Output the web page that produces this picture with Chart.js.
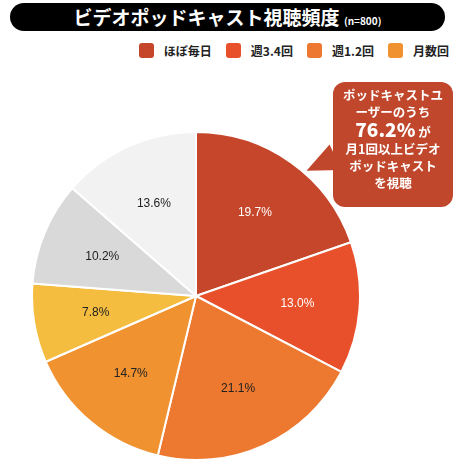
<!DOCTYPE html>
<html><head><meta charset="utf-8">
<script src="https://cdn.jsdelivr.net/npm/chart.js@4/dist/chart.umd.min.js"></script>
<style>
body{margin:0;width:461px;height:470px;background:#fff;font-family:"Noto Sans CJK JP",sans-serif;position:relative;overflow:hidden}
#title{position:absolute;left:10px;top:3px;width:435px;height:28px;background:#000;border-radius:14px;color:#fff;text-align:center;font-size:19px;line-height:28px;font-weight:bold}
#title small{font-size:10px}
#legend{position:absolute;top:42px;right:12px;font-size:12px;font-weight:bold;color:#222;display:flex;gap:14px}
#legend span{display:flex;align-items:center}
#legend i{display:inline-block;width:15px;height:15px;border-radius:3px;margin-right:10px}
#wrap{position:absolute;left:31px;top:131px;width:330px;height:330px}
#call{position:absolute;left:333px;top:82px;width:120px;height:125px;background:#c0472c;border-radius:12px;color:#fff;text-align:center;font-size:12.5px;font-weight:bold;line-height:17px;padding-top:4px;box-sizing:border-box}
#call b{font-size:19px}
#tri{position:absolute;left:305px;top:150px;width:0;height:0;border-top:14px solid transparent;border-bottom:14px solid transparent;border-right:32px solid #c0472c;transform:rotate(-25deg)}
</style></head><body>
<div id="title">ビデオポッドキャスト視聴頻度 <small>(n=800)</small></div>
<div id="legend"></div>
<div id="wrap"><canvas id="pie"></canvas></div>
<div id="tri"></div>
<div id="call">ポッドキャストユ<br>ーザーのうち<br><b>76.2%</b> が<br>月1回以上ビデオ<br>ポッドキャスト<br>を視聴</div>
<script>
const categories = ["ほぼ毎日", "週3.4回", "週1.2回", "月数回", "月1回", "それ以下", "なし"]
const values = [19.7, 13.0, 21.1, 14.7, 7.8, 10.2, 13.6]
const colors = ["#c5462a", "#e8502b", "#ec792f", "#f0922f", "#f5bd3f", "#d9d9d9", "#f2f2f2"]
const labelColors = ["#fff", "#fff", "#222", "#222", "#222", "#222", "#222"]

const legend = document.getElementById("legend")
for (let i = 0; i < 4; i++) {
    legend.innerHTML += '<span><i style="background:' + colors[i] + '"></i>' + categories[i] + '</span>'
}

const sliceLabels = {
    id: "sliceLabels",
    afterDatasetsDraw(chart) {
        const {ctx} = chart
        ctx.save()
        ctx.font = "12px 'Liberation Sans', sans-serif"
        ctx.textAlign = "center"
        ctx.textBaseline = "middle"
        chart.getDatasetMeta(0).data.forEach((arc, i) => {
            const a = (arc.startAngle + arc.endAngle) / 2
            const r = arc.outerRadius * 0.62
            ctx.fillStyle = labelColors[i]
            ctx.fillText(values[i].toFixed(1) + "%", arc.x + Math.cos(a) * r, arc.y + Math.sin(a) * r)
        })
        ctx.restore()
    }
}

new Chart(document.getElementById("pie"), {
    type: "pie",
    data: {
        labels: categories,
        datasets: [{data: values, backgroundColor: colors, borderColor: "#fff", borderWidth: 2}]
    },
    options: {
        animation: false,
        responsive: true,
        maintainAspectRatio: false,
        plugins: {legend: {display: false}, tooltip: {enabled: false}}
    },
    plugins: [sliceLabels]
})
</script>
</body></html>
